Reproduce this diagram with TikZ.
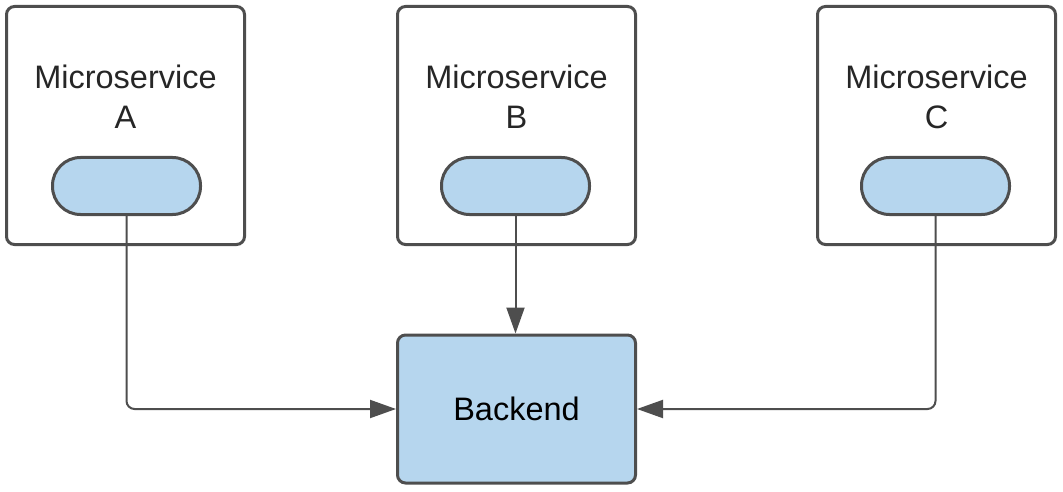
\documentclass[tikz,border=0pt]{standalone}
\usepackage{fontspec}
\setmainfont{Liberation Sans}
\usetikzlibrary{arrows.meta}
\definecolor{edge}{RGB}{78,78,78}
\definecolor{paleblue}{RGB}{182,214,238}
\tikzset{
	svc/.style={draw=edge, line width=3pt, rounded corners=8pt,
		minimum width=238pt, minimum height=238pt, inner sep=0pt},
	pill/.style={draw=edge, fill=paleblue, line width=3pt, rounded corners=28pt,
		minimum width=148pt, minimum height=57pt, inner sep=0pt},
	back/.style={draw=edge, fill=paleblue, line width=3pt, rounded corners=8pt,
		minimum width=238pt, minimum height=148pt, inner sep=0pt,
		font=\fontsize{32.5}{40}\selectfont},
	lbl/.style={font=\fontsize{32.5}{40}\selectfont, align=center, inner sep=0pt,
		text=black!85},
	conn/.style={draw=edge, line width=2pt, rounded corners=8pt,
		-{Triangle[length=26pt,width=18pt]}}
}
\begin{document}
\begin{tikzpicture}[x=1pt, y=-1pt]
	\useasboundingbox (0,0) rectangle (1063,492);
	% the three services
	\node [svc] (sA) at (125.5,125.5) {};
	\node [svc] (sB) at (516.5,125.5) {};
	\node [svc] (sC) at (936.5,125.5) {};
	\node [lbl, anchor=base] (tA) at (125.5,129) {Microservice\\A};
	\node [lbl, anchor=base] (tB) at (516.5,129) {Microservice\\B};
	\node [lbl, anchor=base] (tC) at (936.5,129) {Microservice\\C};
	\node [pill] (pA) at (126.5,186) {};
	\node [pill] (pB) at (515.5,186) {};
	\node [pill] (pC) at (935.5,186) {};
	% backend
	\node [back] (be) at (516.5,409) {Backend};
	\draw [conn] (pA.south) |- (be.west);
	\draw [conn] (pB.south) -- (pB.south |- be.north);
	\draw [conn] (pC.south) |- (be.east);
\end{tikzpicture}
\end{document}
